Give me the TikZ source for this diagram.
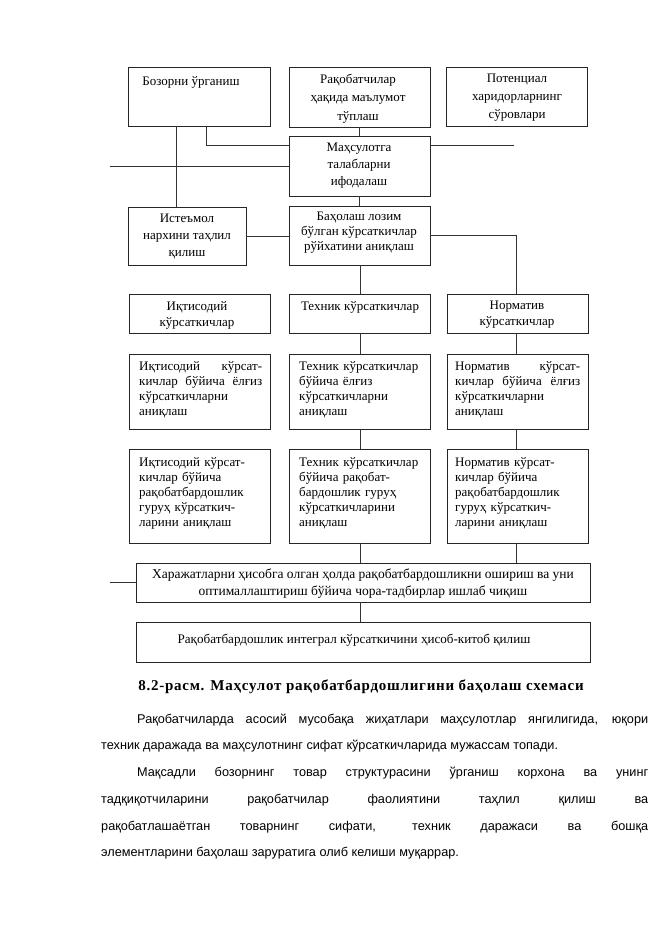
\documentclass[tikz,border=0pt]{standalone}
\usepackage{fontspec}
\setmainfont{Liberation Serif}
\newfontfamily\parafont{Liberation Sans}
\newfontfamily\capfont[LetterSpace=5]{Liberation Serif}
\newcommand\jline[2]{\makebox[#1][s]{#2}}
\newcommand\fline[2]{\makebox[#1][l]{#2}}
\begin{document}
\begin{tikzpicture}[x=1pt,y=-1pt,
  boxst/.style={draw=black!85, line width=0.8pt, inner sep=0pt},
  conn/.style={draw=black!80, line width=0.9pt},
  btxt/.style={font=\fontsize{13}{#1}\selectfont, inner sep=0pt, align=center},
  btxt/.default=15,
  ltxt/.style={font=\fontsize{13}{15}\selectfont, inner sep=0pt, align=left, anchor=west, text width=#1},
  ptxt/.style={font=\parafont\fontsize{12.7}{16}\selectfont, inner sep=0pt, anchor=base west},
  capt/.style={font=\capfont\bfseries\fontsize{15}{18}\selectfont, inner sep=0pt, anchor=base}
]
\useasboundingbox[fill=white] (0,0) rectangle (661,935);

% top row
\node[boxst, minimum width=142pt, minimum height=59pt] (b1) at (199,96.5) {};
\node[boxst, minimum width=141pt, minimum height=60pt] (b2) at (359.5,97) {};
\node[boxst, minimum width=141pt, minimum height=59pt] (b3) at (516.5,96.5) {};
\node[btxt] (t1) at (191,82) {Бозорни ўрганиш};
\node[btxt=18.5] (t2) at (358,98.5) {Рақобатчилар\\ ҳақида маълумот\\ тўплаш};
\node[btxt=18] (t3) at (517,98) {Потенциал\\ харидорларнинг\\ сўровлари};

% second
\node[boxst, minimum width=141pt, minimum height=60pt] (b4) at (359.5,166) {};
\node[btxt=17] (t4) at (359,166) {Маҳсулотга\\ талабларни\\ ифодалаш};

% third
\node[boxst, minimum width=118pt, minimum height=58pt] (b5) at (187,236) {};
\node[boxst, minimum width=141pt, minimum height=59pt] (b6) at (359.5,235.5) {};
\node[btxt=17] (t5) at (187,236) {Истеъмол\\ нархини таҳлил\\ қилиш};
\node[btxt=15] (t6) at (359,233) {Баҳолаш лозим\\ бўлган кўрсаткичлар\\ рўйхатини аниқлаш};

% headings
\node[boxst, minimum width=141pt, minimum height=39pt] (h1) at (199.5,313.5) {};
\node[boxst, minimum width=141pt, minimum height=39pt] (h2) at (359.5,313.5) {};
\node[boxst, minimum width=141pt, minimum height=39pt] (h3) at (517.5,313.5) {};
\node[btxt=16] (th1) at (197,315) {Иқтисодий\\ кўрсаткичлар};
\node[btxt] (th2) at (360,307) {Техник кўрсаткичлар};
\node[btxt=16] (th3) at (517,315) {Норматив\\ кўрсаткичлар};

% row 2
\node[boxst, minimum width=141pt, minimum height=75pt] (l2) at (199.5,391.5) {};
\node[boxst, minimum width=141pt, minimum height=75pt] (m2) at (359.5,391.5) {};
\node[boxst, minimum width=141pt, minimum height=75pt] (n2) at (517.5,391.5) {};
\node[ltxt=123pt] (tl2) at (139,390) {\fline{123pt}{Иқтисодий\hfill кўрсат-}\\ \fline{123pt}{кичлар\hfill бўйича\hfill ёлғиз}\\ кўрсаткичларни\\ аниқлаш};
\node[ltxt=127pt] (tm2) at (299,390) {Техник кўрсаткичлар\\ бўйича ёлғиз\\ кўрсаткичларни\\ аниқлаш};
\node[ltxt=125pt] (tn2) at (455,390) {\fline{125pt}{Норматив\hfill кўрсат-}\\ \fline{125pt}{кичлар\hfill бўйича\hfill ёлғиз}\\ кўрсаткичларни\\ аниқлаш};

% row 3
\node[boxst, minimum width=141pt, minimum height=94pt] (l3) at (199.5,496) {};
\node[boxst, minimum width=141pt, minimum height=94pt] (m3) at (359.5,496) {};
\node[boxst, minimum width=141pt, minimum height=94pt] (n3) at (517.5,496) {};
\node[ltxt=125pt] (tl3) at (139,493.5) {Иқтисодий кўрсат-\\ кичлар бўйича\\ рақобатбардошлик\\ гуруҳ кўрсаткич-\\ ларини аниқлаш};
\node[ltxt=127pt] (tm3) at (299,493.5) {Техник кўрсаткичлар\\ бўйича рақобат-\\ бардошлик гуруҳ\\ кўрсаткичларини\\ аниқлаш};
\node[ltxt=125pt] (tn3) at (455,493.5) {Норматив кўрсат-\\ кичлар бўйича\\ рақобатбардошлик\\ гуруҳ кўрсаткич-\\ ларини аниқлаш};

% bottom boxes
\node[boxst, minimum width=454pt, minimum height=39pt] (c1) at (363,582.5) {};
\node[boxst, minimum width=454pt, minimum height=40pt] (c2) at (363,642) {};
\node[btxt=17, font=\fontsize{13.5}{17}\selectfont] (tc1) at (363,584) {Харажатларни ҳисобга олган ҳолда рақобатбардошликни ошириш ва уни\\ оптималлаштириш бўйича чора-тадбирлар ишлаб чиқиш};
\node[btxt, font=\fontsize{13.1}{17}\selectfont] (tc2) at (354,640) {Рақобатбардошлик интеграл кўрсаткичини ҳисоб-китоб қилиш};

% connector helpers
\coordinate (j1) at (206,145);
\coordinate (j2) at (176,0);
\coordinate (L1) at (110,166);
\coordinate (R1) at (514,145);
\coordinate (L2) at (110,582);
\coordinate (jr) at (516,0);
\coordinate (jm) at (360,0);

\draw[conn] (b1.south -| j1) |- (b4.west |- j1);
\draw[conn] (b1.south -| j2) -- (b5.north -| j2);
\draw[conn] (L1) -- (b4.west |- L1);
\draw[conn] (b4.east |- R1) -- (R1);
\draw[conn] (b2.south) -- (b4.north);
\draw[conn] (b4.south) -- (b6.north);
\draw[conn] (b5.east) -- (b6.west |- b5.east);
\draw[conn] (b6.east) -| (h3.north -| jr);
\draw[conn] (b6.south -| jm) -- (h2.north -| jm);
\draw[conn] (h2.south -| jm) -- (m2.north -| jm);
\draw[conn] (h3.south -| jr) -- (n2.north -| jr);
\draw[conn] (m2.south -| jm) -- (m3.north -| jm);
\draw[conn] (n2.south -| jr) -- (n3.north -| jr);
\draw[conn] (m3.south -| jm) -- (c1.north -| jm);
\draw[conn] (n3.south -| jr) -- (c1.north -| jr);
\draw[conn] (L2) -- (c1.west |- L2);
\draw[conn] (c1.south -| jm) -- (c2.north -| jm);

% caption and text
\node[capt] (cap) at (361,690) {8.2-расм. Маҳсулот рақобатбардошлигини баҳолаш схемаси};
\node[ptxt] (p1) at (137,723) {\jline{511pt}{Рақобатчиларда асосий мусобақа жиҳатлари маҳсулотлар янгилигида, юқори}};
\node[ptxt] (p2) at (101,749) {техник даражада ва маҳсулотнинг сифат кўрсаткичларида мужассам топади.};
\node[ptxt] (p3) at (137,776) {\jline{511pt}{Мақсадли бозорнинг товар структурасини ўрганиш корхона ва унинг}};
\node[ptxt] (p4) at (101,803) {\jline{547pt}{тадқиқотчиларини рақобатчилар фаолиятини таҳлил қилиш ва}};
\node[ptxt] (p5) at (101,830) {\jline{547pt}{рақобатлашаётган товарнинг сифати, техник даражаси ва бошқа}};
\node[ptxt] (p6) at (101,856) {элементларини баҳолаш заруратига олиб келиши муқаррар.};
\end{tikzpicture}
\end{document}
